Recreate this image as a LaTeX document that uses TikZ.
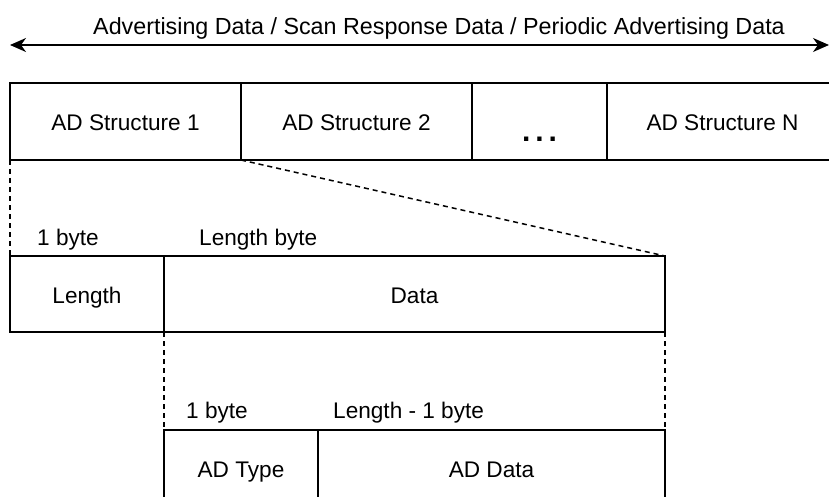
\documentclass[tikz,border=0pt]{standalone}
\usepackage{fontspec}
\setmainfont{Liberation Sans}
\usetikzlibrary{positioning,arrows.meta}

\begin{document}
\begin{tikzpicture}[x=1pt, y=-1pt, node distance=0pt,
        field/.style={rectangle, draw, line width=1.5pt, outer sep=0pt, minimum height=77pt, text height=18pt, text depth=0pt, font=\fontsize{22.6}{27}\selectfont},
        size label/.style={anchor=west, inner sep=0pt, font=\fontsize{22.6}{27}\selectfont},
        line/.style={draw, {Stealth[length=16pt,width=14pt,inset=5pt]}-{Stealth[length=16pt,width=14pt,inset=5pt]}, line width=1.5pt},
        guide/.style={draw, dash pattern=on 5pt off 4pt, line width=1.5pt}]

        \useasboundingbox (0,0) rectangle (829,497);

        % whole payload
        \node [font=\fontsize{23.3}{27}\selectfont] (title) at (439,28) {Advertising Data / Scan Response Data / Periodic Advertising Data};
        \coordinate (lt) at (10,45);
        \coordinate (rt) at (829,45);
        \path [line] (lt) -- (rt);

        \node [field, minimum width=231pt] (ad1) at (125.5,121.5) {AD Structure 1};
        \node [field, minimum width=231pt, right=of ad1] (ad2) {AD Structure 2};
        \node [field, minimum width=135pt, right=of ad2] (dots) {\raisebox{-11pt}{\fontsize{30}{30}\selectfont\bfseries .\,.\,.}};
        \node [field, minimum width=231pt, right=of dots] (adN) {AD Structure N};

        % one AD structure
        \node [size label] (lenb) at (37,240) {1 byte};
        \node [size label] (datab) at (199,240) {Length byte};
        \node [field, minimum width=154pt, minimum height=76pt] (len) at (87,294) {Length};
        \node [field, minimum width=501pt, minimum height=76pt, right=of len] (data) {Data};

        % data part
        \node [size label] (typeb) at (186,413) {1 byte};
        \node [size label] (adb) at (333,413) {Length - 1 byte};
        \node [field, minimum width=154pt, minimum height=76pt] (type) at (241,468) {AD Type};
        \node [field, minimum width=347pt, minimum height=76pt, right=of type] (addata) {AD Data};

        \path [guide] (ad1.south west) -- (len.north west);
        \path [guide] (ad1.south east) -- (data.north east);
        \path [guide] (len.south east) -- (type.north west);
        \path [guide] (data.south east) -- (addata.north east);
    \end{tikzpicture}
\end{document}
